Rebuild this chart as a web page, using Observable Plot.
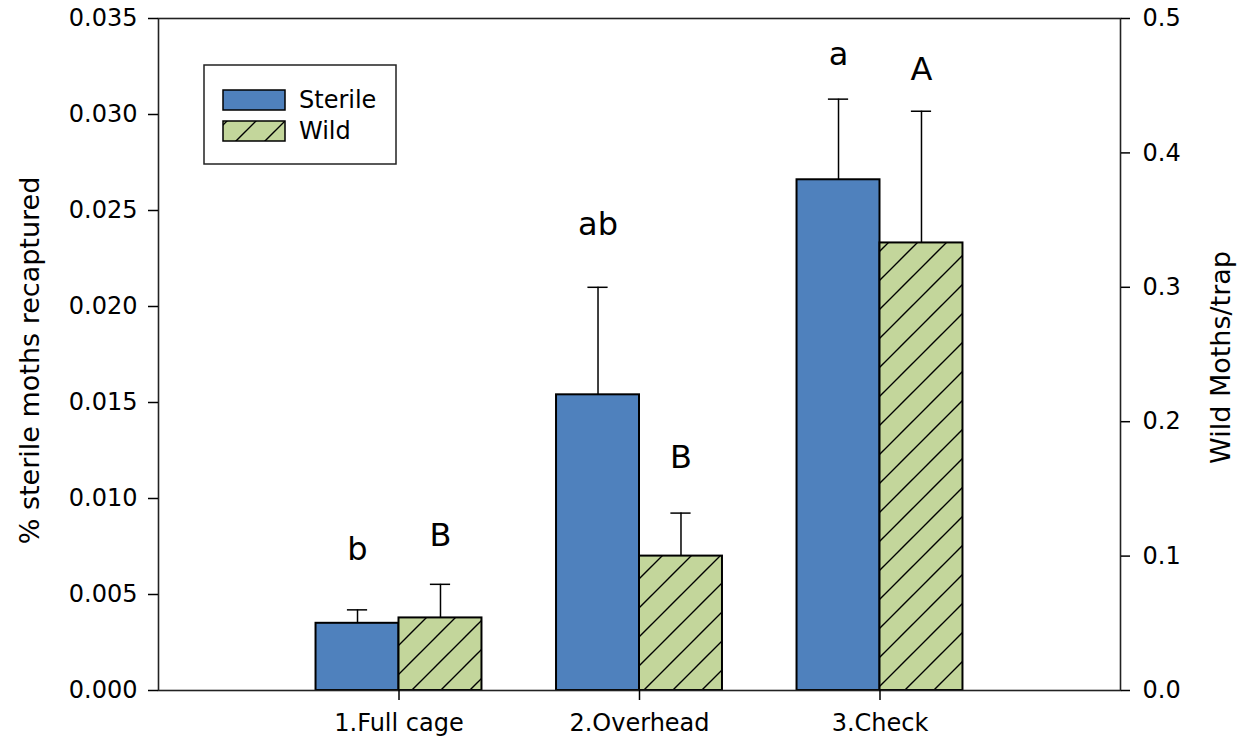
<!DOCTYPE html>
<html>
<head>
<meta charset="utf-8">
<script src="https://cdn.jsdelivr.net/npm/d3@7"></script>
<script src="https://cdn.jsdelivr.net/npm/@observablehq/plot@0.6"></script>
<style>
  body { margin: 0; background: #fff; }
  #chart { position: relative; width: 1242px; height: 744px; font-family: "DejaVu Sans", sans-serif; }
  #legend { position: absolute; left: 0; top: 0; pointer-events: none; }
</style>
</head>
<body>
<svg width="0" height="0" style="position:absolute">
  <defs>
    <pattern id="wildHatch" patternUnits="userSpaceOnUse" width="29" height="29">
      <rect width="29" height="29" fill="#c3d69b"></rect>
      <path d="M0,29 L29,0 M-3,3 L3,-3 M26,32 L32,26" stroke="#000" stroke-width="1.4"></path>
    </pattern>
  </defs>
</svg>
<div id="chart"></div>
<script>
// ---- data ----
const categories = ["1.Full cage", "2.Overhead", "3.Check"];
const seriesNames = ["Sterile", "Wild"];
const sterileMeans = [0.0035, 0.0154, 0.0266];      // % sterile moths recaptured (left axis)
const sterileSE    = [0.0007, 0.0056, 0.0042];
const wildMeans    = [0.054, 0.100, 0.333];         // wild moths/trap (right axis)
const wildSE       = [0.025, 0.032, 0.098];
const sterileLetters = ["b", "ab", "a"];
const wildLetters    = ["B", "B", "A"];
const sterileLetterY = [0.0068, 0.0237, 0.0326];    // left-axis units
const wildLetterY    = [0.1075, 0.1655, 0.454];     // right-axis units
const leftTicks  = [0, 0.005, 0.010, 0.015, 0.020, 0.025, 0.030, 0.035];
const rightTicks = [0, 0.1, 0.2, 0.3, 0.4, 0.5];
const leftMax = 0.035, rightMax = 0.5;

// ---- derived ----
const k = leftMax / rightMax;   // right-axis value -> left-axis units
const half = 0.345;             // bar width in group units
const cap = 0.042;              // half error-cap width in group units

const rows = categories.flatMap((c, i) => [
  {cat: c, series: seriesNames[0], x1: i + 1 - half, x2: i + 1,
   y: sterileMeans[i], hi: sterileMeans[i] + sterileSE[i],
   letter: sterileLetters[i], ly: sterileLetterY[i]},
  {cat: c, series: seriesNames[1], x1: i + 1, x2: i + 1 + half,
   y: wildMeans[i] * k, hi: (wildMeans[i] + wildSE[i]) * k,
   letter: wildLetters[i], ly: wildLetterY[i] * k}
]);
const mid = d => (d.x1 + d.x2) / 2;

const chart = Plot.plot({
  width: 1242,
  height: 744,
  marginLeft: 158,
  marginRight: 122,
  marginTop: 18,
  marginBottom: 54,
  x: {domain: [0, categories.length + 1], axis: null},
  y: {domain: [0, leftMax], axis: null},
  style: {fontFamily: "DejaVu Sans", fontSize: "24px", color: "#000", background: "#fff", overflow: "visible"},
  marks: [
    Plot.rectY(rows.filter(d => d.series === "Sterile"), {x1: "x1", x2: "x2", y1: 0, y2: "y", fill: "#4f81bd", stroke: "#000", strokeWidth: 2}),
    Plot.rectY(rows.filter(d => d.series === "Wild"), {x1: "x1", x2: "x2", y1: 0, y2: "y", fill: "url(#wildHatch)", stroke: "#000", strokeWidth: 2}),
    Plot.ruleX(rows, {x: mid, y1: "y", y2: "hi", stroke: "#000", strokeWidth: 1.5}),
    Plot.ruleY(rows, {y: "hi", x1: d => mid(d) - cap, x2: d => mid(d) + cap, stroke: "#000", strokeWidth: 1.5}),
    Plot.text(rows, {x: mid, y: "ly", text: "letter", fontSize: 32, lineAnchor: "bottom", fill: "#000"}),
    Plot.frame({stroke: "#222", strokeWidth: 1.6}),
    Plot.axisY(leftTicks, {anchor: "left", tickSize: 10, tickPadding: 11, strokeWidth: 1.5, tickFormat: d3.format(".3f"), label: null}),
    Plot.axisY(rightTicks.map(v => v * k), {anchor: "right", tickSize: 9, tickPadding: 13, strokeWidth: 1.5, tickFormat: v => (v / k).toFixed(1), label: null}),
    Plot.axisX(categories.map((c, i) => i + 1), {anchor: "bottom", tickSize: 10, tickPadding: 13, strokeWidth: 1.5, tickFormat: v => categories[v - 1], label: null}),
    Plot.text(["% sterile moths recaptured"], {text: d => d, frameAnchor: "left", textAnchor: "middle", lineAnchor: "middle", rotate: -90, dx: -128, dy: 6, fontSize: 27}),
    Plot.text(["Wild Moths/trap"], {text: d => d, frameAnchor: "right", textAnchor: "middle", lineAnchor: "middle", rotate: -90, dx: 101, dy: 3, fontSize: 27})
  ]
});

const host = document.getElementById("chart");
host.appendChild(chart);

// legend overlay (inside the plot frame, top-left)
const lg = d3.select(host).append("svg")
  .attr("id", "legend")
  .attr("width", 1242).attr("height", 744);
lg.append("rect").attr("x", 204).attr("y", 65).attr("width", 192).attr("height", 99)
  .attr("fill", "#fff").attr("stroke", "#222").attr("stroke-width", 1.5);
const swFill = ["#4f81bd", "url(#wildHatch)"];
seriesNames.forEach((name, i) => {
  const y = 90 + i * 31;
  lg.append("rect").attr("x", 223).attr("y", y).attr("width", 62).attr("height", 20)
    .attr("fill", swFill[i]).attr("stroke", "#000").attr("stroke-width", 1.5);
  lg.append("text").attr("x", 299).attr("y", y + 10).attr("dy", "0.35em")
    .attr("font-family", "DejaVu Sans").attr("font-size", 24).attr("fill", "#000")
    .text(name);
});
</script>
</body>
</html>
